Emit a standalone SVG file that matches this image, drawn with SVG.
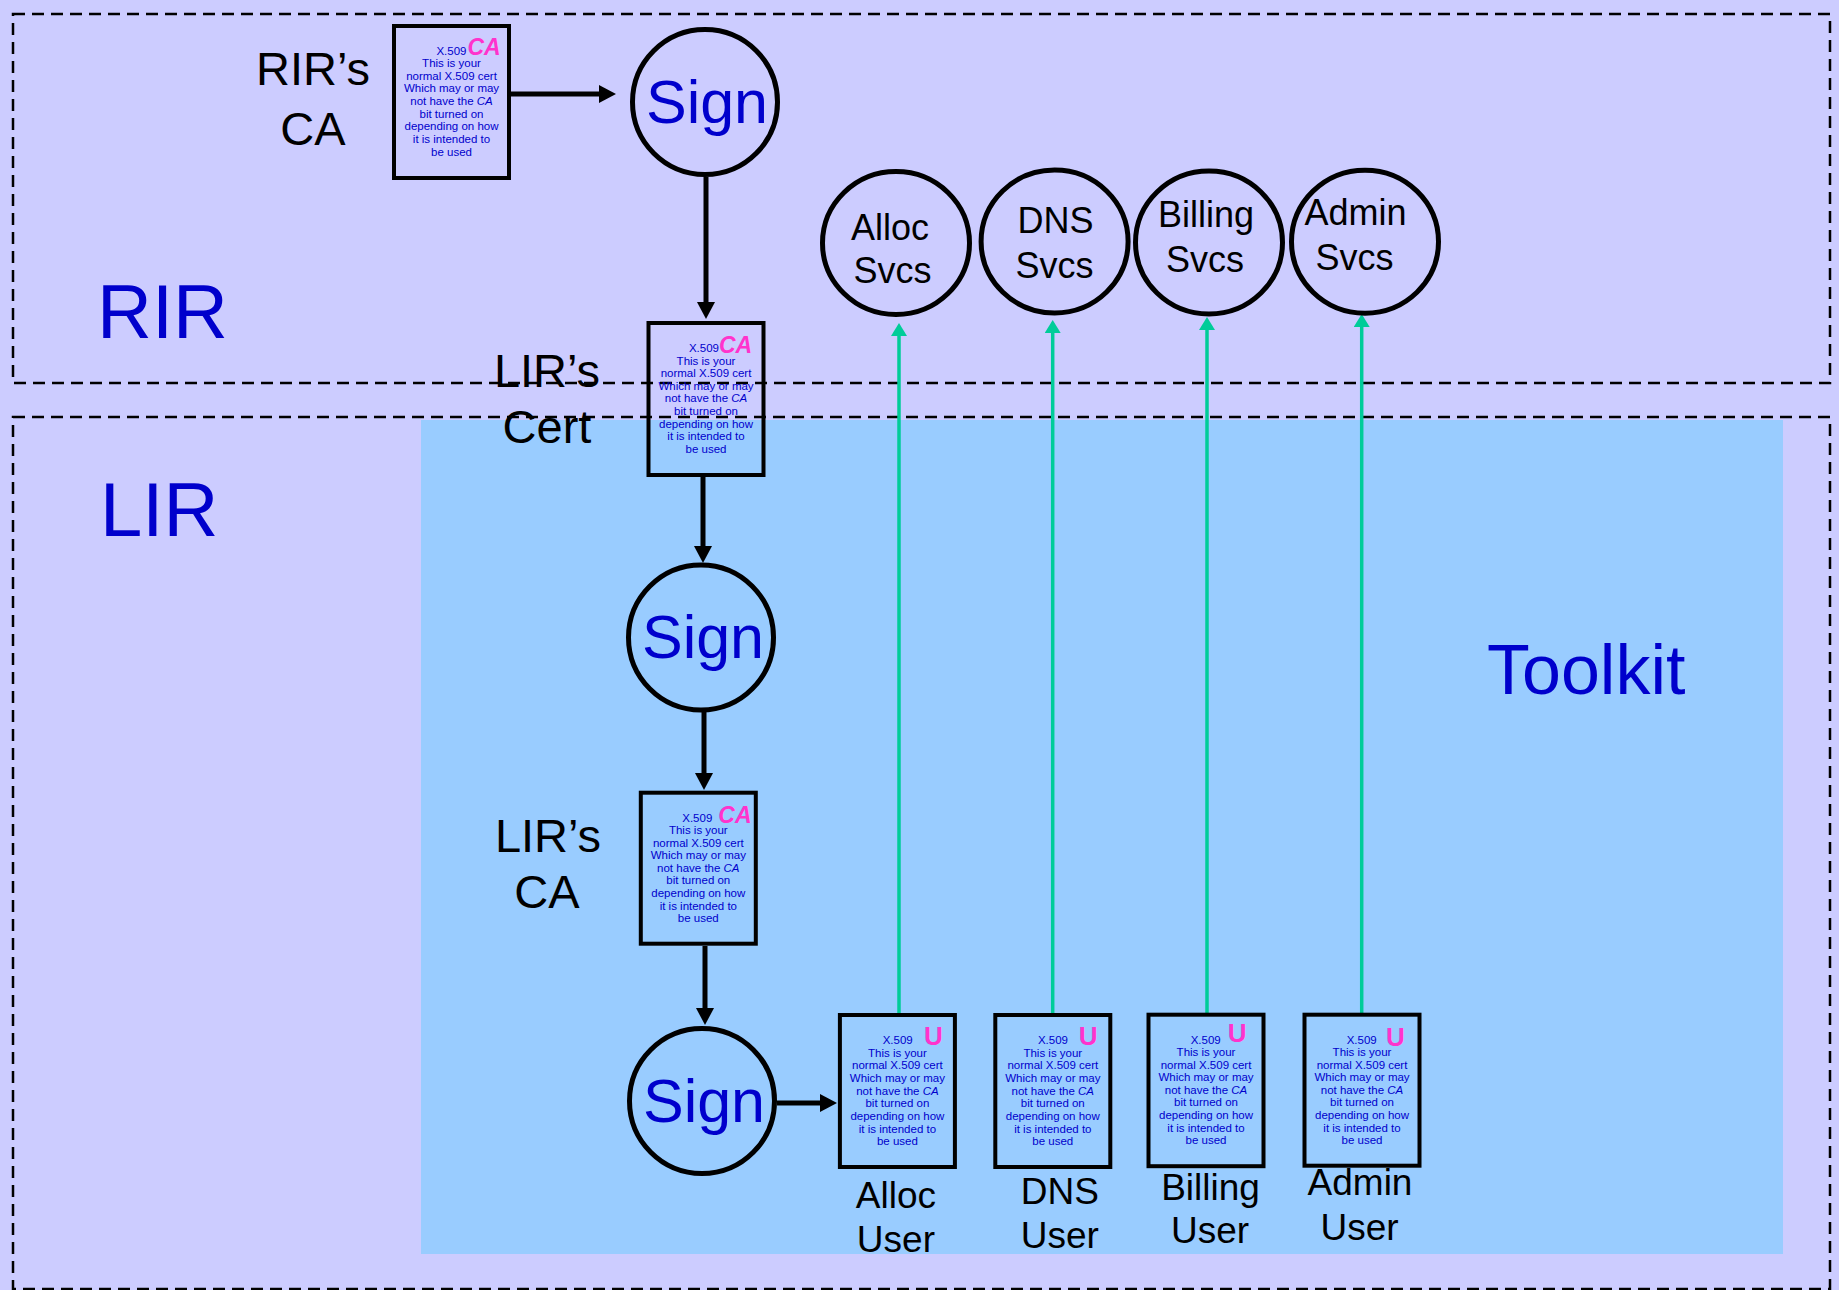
<svg xmlns="http://www.w3.org/2000/svg" width="1839" height="1290" viewBox="0 0 1839 1290">
<defs>
<style>
text{font-family:"Liberation Sans","DejaVu Sans",sans-serif;}
.zone{fill:none;stroke:#000;stroke-width:2.5;stroke-dasharray:12 7;}
.cert{fill:none;stroke:#000;stroke-width:4;}
.circ{fill:none;stroke:#000;stroke-width:5;}
.body{font-size:11.5px;fill:#0000CC;text-anchor:middle;}
.x509{font-size:11.5px;fill:#0000CC;text-anchor:end;}
.ca{font-size:23px;fill:#FF33CC;font-weight:bold;font-style:italic;}
.u{font-size:26px;fill:#FF33CC;font-weight:bold;}
.lbl{font-size:47px;fill:#000;text-anchor:middle;}
.svc{font-size:36px;fill:#000;text-anchor:middle;}
.usr{font-size:37px;fill:#000;text-anchor:middle;}
.sign{font-size:61px;fill:#0000CC;text-anchor:middle;}
.big{font-size:76px;fill:#0000CC;}
.blk{stroke:#000;stroke-width:5;fill:none;}
.grn{stroke:#00CC99;stroke-width:3.5;fill:none;}
</style>
<marker id="ah" viewBox="0 0 17 18" markerUnits="userSpaceOnUse" markerWidth="17" markerHeight="18" refX="0" refY="9" orient="auto"><path d="M0,0 L17,9 L0,18 z" fill="#000"/></marker>
<marker id="ag" viewBox="0 0 13 16" markerUnits="userSpaceOnUse" markerWidth="13" markerHeight="16" refX="0" refY="8" orient="auto"><path d="M0,0 L13,8 L0,16 z" fill="#00CC99"/></marker>
</defs>
<rect x="0" y="0" width="1839" height="1290" fill="#CCCCFF"/>
<rect id="toolkit-area" x="421" y="420" width="1362" height="834" fill="#99CCFF"/>
<rect id="rir-zone" class="zone" x="13" y="14" width="1817" height="369"/>
<rect id="lir-zone" class="zone" x="13" y="417" width="1817" height="872"/>
<text class="big" x="97" y="338">RIR</text>
<text class="big" x="100" y="536">LIR</text>
<text class="big" x="1487" y="694" style="font-size:70px">Toolkit</text>

<g id="connectors">
<line class="blk" x1="511" y1="94" x2="599" y2="94" marker-end="url(#ah)"/>
<line class="blk" x1="706" y1="177" x2="706" y2="302" marker-end="url(#ah)"/>
<line class="blk" x1="703" y1="477" x2="703" y2="546" marker-end="url(#ah)"/>
<line class="blk" x1="704" y1="712" x2="704" y2="773" marker-end="url(#ah)"/>
<line class="blk" x1="705" y1="946" x2="705" y2="1008" marker-end="url(#ah)"/>
<line class="blk" x1="777" y1="1103" x2="820" y2="1103" marker-end="url(#ah)"/>
<line class="grn" x1="899" y1="1013" x2="899" y2="336" marker-end="url(#ag)"/>
<line class="grn" x1="1052.7" y1="1013" x2="1052.7" y2="333" marker-end="url(#ag)"/>
<line class="grn" x1="1207" y1="1013" x2="1207" y2="330" marker-end="url(#ag)"/>
<line class="grn" x1="1361.7" y1="1013" x2="1361.7" y2="327" marker-end="url(#ag)"/>
</g>

<g id="rir-ca" transform="translate(451.5,24)">
<rect class="cert" x="-57.5" y="2" width="115" height="152"/>
<text class="x509" x="15" y="31">X.509</text><text class="ca" x="16" y="31">CA</text>
<text class="body" x="0" y="43">This is your</text>
<text class="body" x="0" y="55.6">normal X.509 cert</text>
<text class="body" x="0" y="68.2">Which may or may</text>
<text class="body" x="0" y="80.9">not have the <tspan font-style="italic">CA</tspan></text>
<text class="body" x="0" y="93.5">bit turned on</text>
<text class="body" x="0" y="106.2">depending on how</text>
<text class="body" x="0" y="118.8">it is intended to</text>
<text class="body" x="0" y="131.5">be used</text>
</g>
<text class="lbl" x="313" y="85">RIR’s</text>
<text class="lbl" x="313" y="145">CA</text>

<g id="sign-1"><circle class="circ" cx="705" cy="102" r="72.5"/><text class="sign" x="707" y="123">Sign</text></g>

<g id="lir-cert" transform="translate(706,321)">
<rect class="cert" x="-57.5" y="2" width="115" height="152"/>
<text class="x509" x="13" y="31">X.509</text><text class="ca" x="13" y="32">CA</text>
<text class="body" x="0" y="43.5">This is your</text>
<text class="body" x="0" y="56.1">normal X.509 cert</text>
<text class="body" x="0" y="68.7">Which may or may</text>
<text class="body" x="0" y="81.4">not have the <tspan font-style="italic">CA</tspan></text>
<text class="body" x="0" y="94">bit turned on</text>
<text class="body" x="0" y="106.7">depending on how</text>
<text class="body" x="0" y="119.3">it is intended to</text>
<text class="body" x="0" y="132">be used</text>
</g>
<text class="lbl" x="547" y="387">LIR’s</text>
<text class="lbl" x="547" y="443">Cert</text>

<g id="sign-2"><circle class="circ" cx="701" cy="637.5" r="72.5"/><text class="sign" x="703" y="658">Sign</text></g>

<g id="lir-ca" transform="translate(698.3,790.7)">
<rect class="cert" x="-57.5" y="2" width="115" height="151"/>
<text class="x509" x="14" y="31">X.509</text><text class="ca" x="20" y="32">CA</text>
<text class="body" x="0" y="43.3">This is your</text>
<text class="body" x="0" y="55.9">normal X.509 cert</text>
<text class="body" x="0" y="68.5">Which may or may</text>
<text class="body" x="0" y="81.2">not have the <tspan font-style="italic">CA</tspan></text>
<text class="body" x="0" y="93.8">bit turned on</text>
<text class="body" x="0" y="106.5">depending on how</text>
<text class="body" x="0" y="119.1">it is intended to</text>
<text class="body" x="0" y="131.8">be used</text>
</g>
<text class="lbl" x="548" y="852">LIR’s</text>
<text class="lbl" x="547" y="908">CA</text>

<g id="sign-3"><circle class="circ" cx="702" cy="1101" r="72.5"/><text class="sign" x="704" y="1122">Sign</text></g>

<g id="alloc-user" transform="translate(897.4,1013)">
<rect class="cert" x="-57.5" y="2" width="115" height="152"/>
<text class="x509" x="15.3" y="31">X.509</text><text class="u" x="26.5" y="32">U</text>
<text class="body" x="0" y="43.7">This is your</text>
<text class="body" x="0" y="56.3">normal X.509 cert</text>
<text class="body" x="0" y="69">Which may or may</text>
<text class="body" x="0" y="81.6">not have the <tspan font-style="italic">CA</tspan></text>
<text class="body" x="0" y="94.3">bit turned on</text>
<text class="body" x="0" y="107">depending on how</text>
<text class="body" x="0" y="119.6">it is intended to</text>
<text class="body" x="0" y="132.3">be used</text>
<text class="usr" x="-1.5" y="195">Alloc</text>
<text class="usr" x="-1.5" y="239">User</text>
</g>

<g id="dns-user" transform="translate(1052.8,1013)">
<rect class="cert" x="-57.5" y="2" width="115" height="152"/>
<text class="x509" x="15.2" y="31">X.509</text><text class="u" x="26" y="32">U</text>
<text class="body" x="0" y="43.7">This is your</text>
<text class="body" x="0" y="56.3">normal X.509 cert</text>
<text class="body" x="0" y="69">Which may or may</text>
<text class="body" x="0" y="81.6">not have the <tspan font-style="italic">CA</tspan></text>
<text class="body" x="0" y="94.3">bit turned on</text>
<text class="body" x="0" y="107">depending on how</text>
<text class="body" x="0" y="119.6">it is intended to</text>
<text class="body" x="0" y="132.3">be used</text>
<text class="usr" x="7" y="191">DNS</text>
<text class="usr" x="7" y="235">User</text>
</g>

<g id="billing-user" transform="translate(1206,1012.7)">
<rect class="cert" x="-57.5" y="2" width="115" height="151.5"/>
<text class="x509" x="14.7" y="31">X.509</text><text class="u" x="21.7" y="29">U</text>
<text class="body" x="0" y="43.3">This is your</text>
<text class="body" x="0" y="55.9">normal X.509 cert</text>
<text class="body" x="0" y="68.5">Which may or may</text>
<text class="body" x="0" y="81.2">not have the <tspan font-style="italic">CA</tspan></text>
<text class="body" x="0" y="93.8">bit turned on</text>
<text class="body" x="0" y="106.5">depending on how</text>
<text class="body" x="0" y="119.1">it is intended to</text>
<text class="body" x="0" y="131.8">be used</text>
<text class="usr" x="4.5" y="187">Billing</text>
<text class="usr" x="4" y="230">User</text>
</g>

<g id="admin-user" transform="translate(1362,1012.7)">
<rect class="cert" x="-57.5" y="2" width="115" height="151"/>
<text class="x509" x="14.7" y="31">X.509</text><text class="u" x="24" y="33">U</text>
<text class="body" x="0" y="43.3">This is your</text>
<text class="body" x="0" y="55.9">normal X.509 cert</text>
<text class="body" x="0" y="68.5">Which may or may</text>
<text class="body" x="0" y="81.2">not have the <tspan font-style="italic">CA</tspan></text>
<text class="body" x="0" y="93.8">bit turned on</text>
<text class="body" x="0" y="106.5">depending on how</text>
<text class="body" x="0" y="119.1">it is intended to</text>
<text class="body" x="0" y="131.8">be used</text>
<text class="usr" x="-2" y="182">Admin</text>
<text class="usr" x="-2.5" y="227">User</text>
</g>

<g id="alloc-svcs"><ellipse class="circ" cx="896" cy="243" rx="73.5" ry="71.5"/><text class="svc" x="890" y="240">Alloc</text><text class="svc" x="892.6" y="283">Svcs</text></g>
<g id="dns-svcs"><ellipse class="circ" cx="1054.6" cy="241.5" rx="73.5" ry="71.5"/><text class="svc" x="1055.6" y="233">DNS</text><text class="svc" x="1054.6" y="278">Svcs</text></g>
<g id="billing-svcs"><ellipse class="circ" cx="1209" cy="242.5" rx="73.5" ry="71.5"/><text class="svc" x="1206" y="226.7">Billing</text><text class="svc" x="1205" y="271.7">Svcs</text></g>
<g id="admin-svcs"><ellipse class="circ" cx="1365" cy="241.7" rx="73.5" ry="71.5"/><text class="svc" x="1355.6" y="225">Admin</text><text class="svc" x="1354.5" y="270">Svcs</text></g>
</svg>
